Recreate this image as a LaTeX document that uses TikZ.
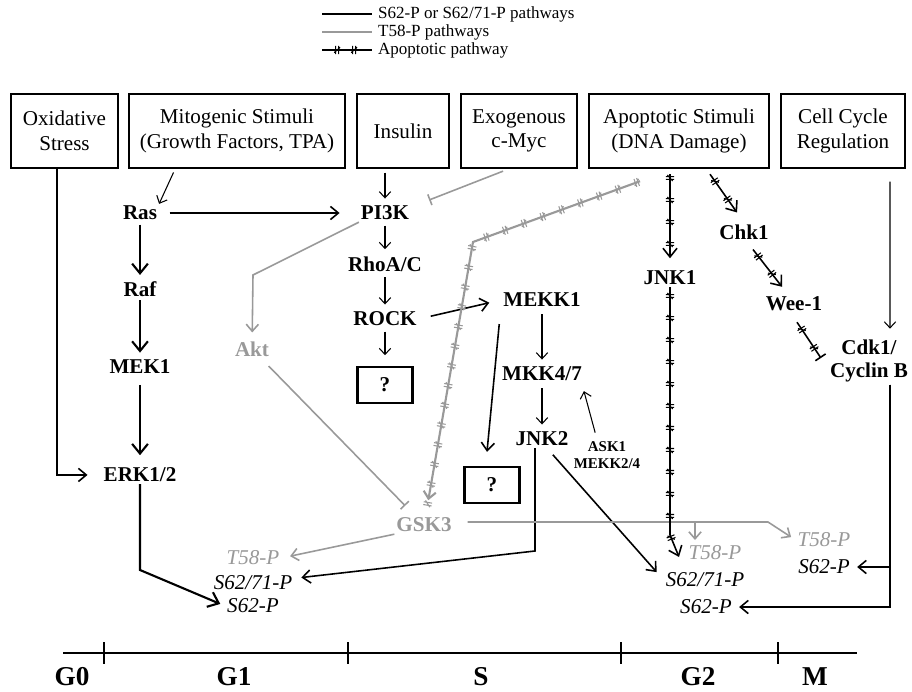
\documentclass[tikz,border=0pt]{standalone}
\usepackage{fontspec}
\setmainfont{Liberation Serif}
\usepackage{tikz}
\usetikzlibrary{arrows.meta,calc,decorations.markings,positioning}
\definecolor{tgray}{gray}{0.6}
\tikzset{%
	stim/.style    = {draw, rectangle, line width=1.4pt, minimum height=1.48cm, align=center, inner sep=2pt, font=\fontsize{12}{14}\selectfont},
	prot/.style    = {inner sep=1pt, align=center, font=\fontsize{12}{13.5}\selectfont\bfseries},
	tprot/.style   = {prot, text=tgray},
	site/.style    = {inner sep=1pt, font=\fontsize{12}{14}\selectfont\itshape},
	tsite/.style   = {site, text=tgray},
	qbox/.style    = {draw, rectangle, line width=1.4pt, minimum width=1.1cm, minimum height=0.72cm, font=\fontsize{12}{14}\selectfont\bfseries},
	phase/.style   = {inner sep=1pt, font=\fontsize{15.5}{17}\selectfont\bfseries},
	legtext/.style = {anchor=west, inner sep=1pt, font=\fontsize{9.7}{11}\selectfont},
	thinarr/.style = {line width=0.6pt, -{Straight Barb[length=3.5pt,width=6.5pt]}},
	medarr/.style  = {line width=0.9pt, -{Straight Barb[length=4.5pt,width=7.5pt]}},
	bigarr/.style  = {line width=1.2pt, -{Straight Barb[length=5.5pt,width=9pt]}},
	tarr/.style    = {tgray, line width=0.9pt, -{Straight Barb[length=4pt,width=7pt]}},
	tbar/.style    = {tgray, line width=0.9pt, -{Bar[width=6.5pt]}},
	apomark/.style = {postaction={decorate}, decoration={markings, mark=between positions #1 with {\draw[-, shorten <=0pt, shorten >=0pt, line width=0.6pt] (-0.8pt,-2.4pt) -- (-0.8pt,2.4pt) (0.8pt,-2.4pt) -- (0.8pt,2.4pt) (-1.7pt,-1.5pt) -- (1.7pt,1.5pt);}}},
	apomark/.default = {5pt and -5pt step 0.44cm},
	apoarr/.style  = {line width=0.9pt, -{Straight Barb[length=5pt,width=8pt]}, apomark},
	apobar/.style  = {line width=0.9pt, -{Bar[width=7pt]}, apomark},
}

\begin{document}
\begin{tikzpicture}[x=0.02cm,y=-0.02cm]
	\useasboundingbox (0,0) rectangle (912,692);

	% legend
	\coordinate (l1) at (322,14);
	\coordinate (l2) at (322,32);
	\coordinate (l3) at (322,50);
	\node[legtext] (leg1) at (376,14) {S62-P or S62/71-P pathways};
	\node[legtext] (leg2) at (376,32) {T58-P pathways};
	\node[legtext] (leg3) at (376,50) {Apoptotic pathway};
	\draw[line width=1.2pt, shorten >=2pt] (l1) -- (leg1);
	\draw[tgray, line width=0.9pt, shorten >=2pt] (l2) -- (leg2);
	\draw[line width=1.1pt, shorten >=2pt, apomark={0.28 and 0.8 step 0.34cm}] (l3) -- (leg3);

	% stimuli
	\node[stim, minimum width=2.14cm] (oxi)  at (64.5,131) {Oxidative\\Stress};
	\node[stim, minimum width=4.32cm] (mito) at (237,131)  {Mitogenic Stimuli\\(Growth Factors, TPA)};
	\node[stim, minimum width=1.84cm] (ins)  at (403,131)  {Insulin};
	\node[stim, minimum width=2.32cm] (exo)  at (519,131)  {Exogenous\\c-Myc};
	\node[stim, minimum width=3.6cm]  (apo)  at (679,131)  {Apoptotic Stimuli\\(DNA Damage)};
	\node[stim, minimum width=2.48cm] (cc)   at (843,131)  {Cell Cycle\\Regulation};

	% kinases
	\node[prot] (ras) at (140,213) {Ras};
	\node[prot] (raf) [below of=ras,node distance=1.52cm] {Raf};
	\node[prot] (mek) [below of=raf,node distance=1.56cm] {MEK1};
	\node[prot] (erk) [below of=mek,node distance=2.16cm] {ERK1/2};
	\node[prot] (pi3k) at (385,213) {PI3K};
	\node[prot] (rhoa) [below of=pi3k,node distance=1.02cm] {RhoA/C};
	\node[prot] (rock) [below of=rhoa,node distance=1.1cm] {ROCK};
	\node[qbox] (q1) [below of=rock,node distance=1.32cm] {?};
	\node[tprot] (akt) at (252,349) {Akt};
	\node[tprot] (gsk) at (424,525) {GSK3};
	\node[prot] (mekk1) at (542,300) {MEKK1};
	\node[prot] (mkk) [below of=mekk1,node distance=1.48cm] {MKK4/7};
	\node[prot] (jnk2) [below of=mkk,node distance=1.3cm] {JNK2};
	\node[prot, font=\fontsize{8.5}{9.6}\selectfont\bfseries] (ask) at (607,455) {ASK1\\MEKK2/4};
	\node[qbox] (q2) at (492,485) {?};
	\node[prot] (jnk1) at (670,278) {JNK1};
	\node[prot] (chk1) at (744,232) {Chk1};
	\node[prot] (wee) at (794,304) {Wee-1};
	\node[prot] (cdk) at (869,361) {Cdk1/\\Cyclin B};

	% phosphorylation sites
	\node[tsite] (t58l) at (253,558) {T58-P};
	\node[site] (s6271l) [below of=t58l,node distance=0.5cm] {S62/71-P};
	\node[site] (s62l) [below of=s6271l,node distance=0.46cm] {S62-P};
	\node[tsite] (t58m) at (715,553) {T58-P};
	\node[site] (s6271m) at (705,580) {S62/71-P};
	\node[site] (s62m) at (706,607) {S62-P};
	\node[tsite] (t58r) at (824,540) {T58-P};
	\node[site] (s62r) [below of=t58r,node distance=0.54cm] {S62-P};

	% Ras / MAPK branch
	\draw[thinarr, shorten <=2pt] ([xshift=-1.24cm]mito.south) -- (ras.north east);
	\draw[medarr, shorten <=6pt, shorten >=11pt] (ras) -- (pi3k);
	\draw[bigarr, shorten <=1.5pt, shorten >=2.5pt] (ras) -- (raf);
	\draw[bigarr, shorten <=1pt, shorten >=3pt] (raf) -- (mek);
	\draw[bigarr, shorten <=5pt, shorten >=6pt] (mek) -- (erk);
	\draw[medarr, shorten >=8pt] ([xshift=-0.15cm]oxi.south) |- (erk);
	\coordinate (ebend) at (140,570);
	\draw[bigarr, shorten >=3pt] (erk) -- (ebend) -- (s62l.west);

	% insulin branch
	\draw[thinarr, shorten <=2pt, shorten >=3pt] (ins.south -| pi3k) -- (pi3k);
	\draw[thinarr, shorten <=2pt, shorten >=3pt] (pi3k) -- (rhoa);
	\draw[thinarr, shorten <=2pt, shorten >=3pt] (rhoa) -- (rock);
	\draw[thinarr, shorten <=2pt, shorten >=6pt] (rock) -- (q1);
	\draw[tbar, shorten <=3pt] ([xshift=-0.22cm]exo.south) -- ([xshift=0.36cm,yshift=0.26cm]pi3k.east);
	\coordinate (akbend) at (253,275);
	\draw[tarr, shorten >=4pt] (pi3k.south west) -- (akbend) -- (akt);
	\draw[tbar, shorten <=6pt, shorten >=8pt] (akt) -- (gsk);
	\draw[medarr, shorten <=7pt, shorten >=7pt] (rock.east) -- (mekk1.west);

	% JNK branch
	\draw[thinarr, shorten <=3pt, shorten >=3pt] (mekk1) -- (mkk);
	\draw[thinarr, shorten <=3pt, shorten >=3pt] (mkk) -- (jnk2);
	\draw[thinarr, shorten <=4pt] ([xshift=-0.2cm]ask.north) -- ([yshift=-0.16cm]mkk.south east);
	\draw[medarr] ([shift={(-2,15)}]mekk1.south west) -- ([shift={(-5,-14)}]q2.north);
	\coordinate (jbend2) at (535,551);
	\draw[medarr, shorten >=4pt] ([xshift=-0.14cm]jnk2.south) -- (jbend2) -- (s6271l);
	\draw[medarr, shorten <=5pt, shorten >=6pt] ([xshift=0.1cm]jnk2.south) -- (s6271m.west);

	% GSK3 branch
	\coordinate (gbend) at (473,242);
	\draw[tarr, line width=1.2pt, shorten >=9pt, apomark={2pt and -4pt step 0.4cm}] ([xshift=-0.78cm,yshift=-0.24cm]apo.south) -- (gbend) -- (gsk);
	\draw[tarr, shorten >=5pt] (gsk.south west) -- (t58l.east);
	\coordinate (gcorner) at (768,522);
	\draw[tarr, shorten <=8pt, shorten >=3pt] (gsk.east |- gcorner) -- (gcorner) -- (t58r.west);
	\coordinate (gdrop) at (695,522);
	\coordinate (gdropend) at (695,540);
	\draw[tarr] (gdrop) -- (gdropend);

	% apoptotic branch
	\draw[apoarr, shorten <=3pt, shorten >=6pt] (apo.south -| jnk1) -- (jnk1);
	\coordinate (jbend) at (670,535);
	\coordinate (jtip) at (679,557);
	\draw[apoarr] (jnk1) -- (jbend) -- (jtip);
	\draw[apoarr] ([xshift=0.62cm,yshift=-0.1cm]apo.south) -- ([xshift=-0.14cm,yshift=0.2cm]chk1.north);
	\draw[apoarr] ([shift={(9,8)}]chk1.south) -- ([shift={(-12,-8)}]wee.north);
	\draw[apobar] ([shift={(3,9)}]wee.south) -- ([shift={(-7,-3)}]cdk.west);

	% cell cycle branch
	\draw[thinarr, shorten <=7pt, shorten >=5pt] ([xshift=0.94cm]cc.south) -- ([xshift=0.42cm]cdk.north);
	\draw[medarr, shorten >=3pt] ([xshift=0.42cm]cdk.south) |- (s62r);
	\draw[medarr, shorten >=3pt] ([xshift=0.42cm]cdk.south) |- (s62m);

	% cell cycle phases
	\coordinate (ax0) at (63,653);
	\coordinate (ax1) at (857,653);
	\draw[line width=1.5pt] (ax0) -- (ax1);
	\foreach \tx in {104,348,621,778}
		\draw[line width=1.2pt] (\tx,642) -- (\tx,664);
	\foreach \px/\pn in {72/G0,234/G1,481/S,698/G2,815/M}
		\node[phase] (ph\pn) at (\px,677) {\pn};
\end{tikzpicture}
\end{document}
